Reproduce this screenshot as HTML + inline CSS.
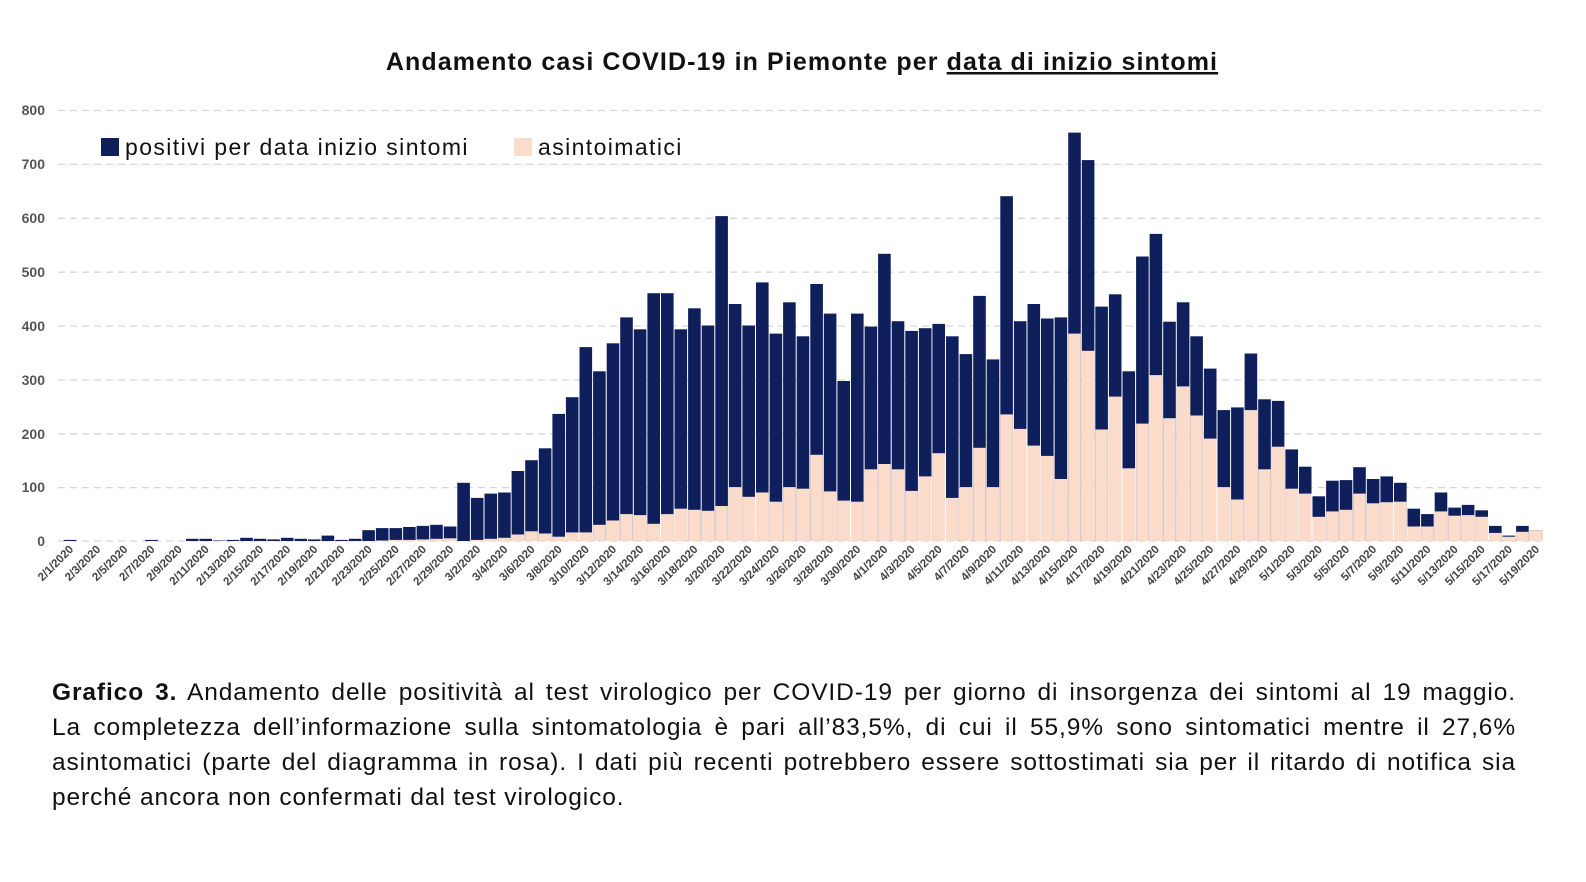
<!DOCTYPE html>
<html><head><meta charset="utf-8">
<style>
body{margin:0;background:#fff;width:1586px;height:882px;overflow:hidden;font-family:"Liberation Sans",sans-serif}
.cap{position:absolute;left:52px;top:675px;width:1464px;font-size:24.5px;letter-spacing:0.9px;line-height:35px;color:#111}
.cap div{text-align:justify;text-align-last:justify;white-space:nowrap}
.cap div.l{text-align-last:left}
</style></head><body>
<svg width="1586" height="640" style="position:absolute;left:0;top:0" font-family="Liberation Sans, sans-serif">
<text x="802" y="70" text-anchor="middle" font-size="25" font-weight="bold" letter-spacing="1.1" fill="#111">Andamento casi COVID-19 in Piemonte per <tspan text-decoration="underline">data di inizio sintomi</tspan></text>
<g stroke="#d6d6d6" stroke-dasharray="7,5" stroke-width="1.3">
<line x1="58" x2="1545" y1="110.5" y2="110.5"/><line x1="58" x2="1545" y1="164.4" y2="164.4"/><line x1="58" x2="1545" y1="218.3" y2="218.3"/><line x1="58" x2="1545" y1="272.1" y2="272.1"/><line x1="58" x2="1545" y1="326" y2="326"/><line x1="58" x2="1545" y1="379.9" y2="379.9"/><line x1="58" x2="1545" y1="433.8" y2="433.8"/><line x1="58" x2="1545" y1="487.6" y2="487.6"/><line x1="58" x2="1545" y1="541" y2="541"/>
</g>
<g font-size="14" font-weight="bold" fill="#555" text-anchor="end">
<text x="45" y="115">800</text><text x="45" y="169">700</text><text x="45" y="223">600</text><text x="45" y="277">500</text><text x="45" y="331">400</text><text x="45" y="385">300</text><text x="45" y="439">200</text><text x="45" y="492">100</text><text x="45" y="546">0</text>
</g>
<g id="bars"></g>
<rect x="101" y="138" width="18" height="18" fill="#0f1f5c"/>
<text x="125" y="155" font-size="23" letter-spacing="1.4" fill="#111">positivi per data inizio sintomi</text>
<rect x="514" y="138" width="18" height="18" fill="#fbdccb"/>
<text x="538" y="155" font-size="23" letter-spacing="1.4" fill="#111">asintoimatici</text>
<g id="xl" font-size="11.5" font-weight="bold" fill="#444" text-anchor="end">
<text>2/1/2020</text><text>2/3/2020</text><text>2/5/2020</text><text>2/7/2020</text><text>2/9/2020</text><text>2/11/2020</text><text>2/13/2020</text><text>2/15/2020</text><text>2/17/2020</text><text>2/19/2020</text><text>2/21/2020</text><text>2/23/2020</text><text>2/25/2020</text><text>2/27/2020</text><text>2/29/2020</text>
<text>3/2/2020</text><text>3/4/2020</text><text>3/6/2020</text><text>3/8/2020</text><text>3/10/2020</text><text>3/12/2020</text><text>3/14/2020</text><text>3/16/2020</text><text>3/18/2020</text><text>3/20/2020</text><text>3/22/2020</text><text>3/24/2020</text><text>3/26/2020</text><text>3/28/2020</text><text>3/30/2020</text>
<text>4/1/2020</text><text>4/3/2020</text><text>4/5/2020</text><text>4/7/2020</text><text>4/9/2020</text><text>4/11/2020</text><text>4/13/2020</text><text>4/15/2020</text><text>4/17/2020</text><text>4/19/2020</text><text>4/21/2020</text><text>4/23/2020</text><text>4/25/2020</text><text>4/27/2020</text><text>4/29/2020</text>
<text>5/1/2020</text><text>5/3/2020</text><text>5/5/2020</text><text>5/7/2020</text><text>5/9/2020</text><text>5/11/2020</text><text>5/13/2020</text><text>5/15/2020</text><text>5/17/2020</text><text>5/19/2020</text>
</g>
</svg>
<div class="cap">
<div><b>Grafico 3.</b> Andamento delle positività al test virologico per COVID-19 per giorno di insorgenza dei sintomi al 19 maggio.</div>
<div>La completezza dell’informazione sulla sintomatologia è pari all’83,5%, di cui il 55,9% sono sintomatici mentre il 27,6%</div>
<div>asintomatici (parte del diagramma in rosa). I dati più recenti potrebbero essere sottostimati sia per il ritardo di notifica sia</div>
<div class="l">perché ancora non confermati dal test virologico.</div>
</div>
<script>
var feb=[2,0,0,0,0,0,2,0,0,4,4,1,2,6,4,3,6,4,3,10,2,4,20,24,24,26,28,30,27];
var tot=feb.concat([108,80,88,90,130,150,172,236,267,360,315,367,415,393,460,460,393,432,400,603,440,400,480,385,443,380,477,422,297,422,398,533,408,390,395,403,380,347,455,337,640,408,440,413,415,758,707,435,458,315,528,570,407,443,380,320,243,248,348,263,260,170,138,83,112,113,137,115,120,108,60,50,90,62,67,57,28,10,28,20]);
var pk=[0,0,0,0,0,0,0,0,0,0,0,0,0,0,0,0,0,0,0,0,0,0,0,1,2,2,3,4,5].concat([0,2,4,6,12,18,14,8,16,16,30,38,50,48,32,50,60,58,56,65,100,82,90,73,100,97,160,92,75,73,133,143,133,93,120,163,80,100,173,100,235,208,177,158,115,385,353,207,268,135,218,308,228,287,233,190,100,77,243,133,175,97,88,45,55,58,88,70,72,73,27,27,55,47,48,45,15,8,17,20]);
tot=tot.slice(0,109);pk=pk.slice(0,109);
var n=tot.length,x0=70,st=(1536-70)/(n-1),k=431/800,w=12.6,s='';
for(var i=0;i<n;i++){var x=x0+i*st-w/2,h=tot[i]*k,p=pk[i]*k;
s+='<rect x="'+x.toFixed(1)+'" y="'+(541-h).toFixed(1)+'" width="'+w+'" height="'+h.toFixed(1)+'" fill="#0f1f5c"/>';
s+='<rect x="'+x.toFixed(1)+'" y="'+(541-p).toFixed(1)+'" width="'+w+'" height="'+p.toFixed(1)+'" fill="#fbdccb"/>';}
document.getElementById('bars').innerHTML=s;
var t=document.getElementById('xl').children;
for(var j=0;j<t.length;j++){var cx=x0+2*j*st+4;t[j].setAttribute('transform','translate('+cx.toFixed(1)+',550) rotate(-45)');}
</script>
</body></html>
